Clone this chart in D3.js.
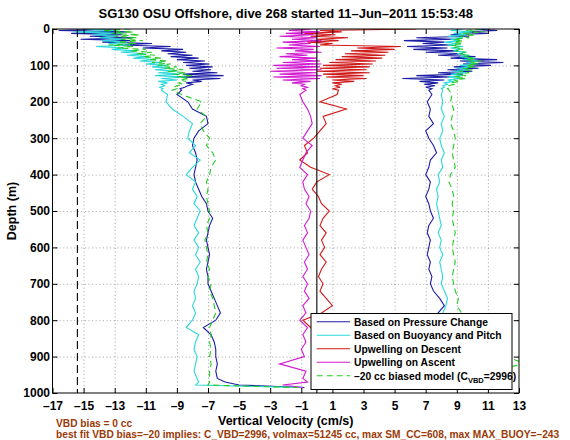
<!DOCTYPE html>
<html><head><meta charset="utf-8">
<script src="https://cdn.jsdelivr.net/npm/d3@7"></script>
<style>
body{margin:0;background:#fff;}
svg{display:block;font-family:"Liberation Sans",Arial,Helvetica,sans-serif;font-weight:bold;}
</style></head><body>
<svg id="chart" width="570" height="440"></svg>
<script>
const titleText = "SG130 OSU Offshore, dive 268 started 11\u2013Jun\u20132011 15:53:48";
const xLabel = "Vertical Velocity (cm/s)";
const yLabel = "Depth (m)";
const noteLines = ["VBD bias = 0 cc",
  "best fit VBD bias=\u201320 implies: C_VBD=2996, volmax=51245 cc, max SM_CC=608, max MAX_BUOY=\u2013243"];
const xTicks = [-17,-15,-13,-11,-9,-7,-5,-3,-1,1,3,5,7,9,11,13];
const yTicks = [0,100,200,300,400,500,600,700,800,900,1000];
const stallW = -15.4;   // dashed reference line
const zeroW = 0;

// depth grids (m)
const depthTop = [0,4,8,12,16,20,24,28,32,36,40,44,48,52,56,60,64,68,72,76,80,84,88,92,96,100,104,108,112,116,120,124,128,132,136,140,144,148,152,156,160,164,168];
const depthDeep = [180,200,220,240,260,280,300,320,340,360,380,400,420,440,460,480,500,520,540,560,580,600,620,640,660,680,700,720,740,760,780,800,820,840,860,880,900,920,940,960,970,978,985];

// Based on Pressure Change (descent / ascent)
const pressDesc = [-13.0,-16.6,-12.2,-15.8,-12.5,-14.6,-11.8,-15.2,-12.0,-13.8,-10.6,-12.6,-9.4,-11.2,-8.6,-10.0,-8.4,-9.6,-8.0,-9.4,-7.6,-9.0,-7.2,-8.6,-6.9,-8.4,-6.7,-8.2,-6.8,-8.0,-6.4,-8.6,-6.0,-9.2,-6.2,-8.0,-7.4,-8.4,-8.0,-8.3,-8.5,-8.8,-8.7,
  -9.0,-8.3,-8.0,-7.1,-7.0,-7.6,-7.9,-8.0,-7.8,-7.7,-7.8,-7.9,-7.8,-7.6,-7.4,-7.1,-7.0,-6.7,-6.9,-7.0,-7.1,-7.0,-6.9,-7.0,-7.1,-7.0,-7.0,-6.8,-6.6,-6.4,-6.2,-6.5,-7.3,-6.8,-6.6,-6.5,-6.5,-6.4,-6.5,-6.4,-5.9,-5.0,-0.8];
const pressAsc = [10.2,11.6,9.4,11.0,8.6,9.8,6.4,8.8,5.6,8.2,6.8,8.6,5.8,8.4,6.2,9.0,7.0,9.4,7.8,10.2,8.6,11.6,9.2,12.0,9.4,11.2,8.8,10.4,8.4,10.0,7.8,9.4,6.4,8.6,5.5,8.2,6.6,7.8,6.9,7.6,7.0,7.4,7.2,
  7.4,7.1,7.3,7.2,7.5,7.0,7.2,7.5,7.7,7.3,7.2,7.0,7.3,7.2,7.0,7.2,7.3,7.5,7.2,7.1,7.3,7.2,7.1,7.3,7.2,7.4,7.3,7.5,7.9,8.2,7.8,7.5,7.7,7.6,7.7,7.8,7.6,7.7,7.8,7.5,7.0,5.0,0.6];

// Based on Buoyancy and Pitch
const buoyDesc = [-14.8,-13.0,-15.6,-12.6,-14.4,-12.8,-14.0,-12.4,-13.8,-12.2,-13.4,-12.0,-14.2,-12.4,-13.2,-11.6,-12.6,-11.0,-12.2,-10.8,-11.8,-10.4,-11.4,-10.0,-11.0,-9.6,-10.6,-9.4,-10.4,-9.0,-10.2,-8.8,-10.4,-8.4,-10.0,-9.0,-10.2,-9.6,-10.0,-9.8,-10.1,-9.9,-10.0,
  -9.6,-9.7,-9.3,-8.6,-8.0,-8.2,-8.3,-7.8,-8.2,-7.5,-8.0,-8.4,-7.8,-8.0,-7.7,-7.9,-7.5,-7.7,-7.9,-7.6,-7.9,-7.6,-7.8,-7.5,-7.8,-7.6,-7.7,-7.9,-7.8,-8.0,-7.8,-8.0,-8.4,-7.6,-7.8,-7.9,-7.7,-7.8,-7.9,-7.7,-7.6,-7.8,-1.0];
const buoyAsc = [9.4,8.6,10.0,8.8,9.6,8.4,9.4,8.6,9.2,8.2,9.0,8.4,9.4,8.6,9.2,8.8,9.6,9.0,9.8,9.2,10.2,9.4,10.4,9.6,10.2,9.2,10.0,9.0,9.8,8.8,9.6,8.6,9.4,8.4,9.2,8.4,8.8,8.2,8.4,8.1,8.2,8.0,8.1,
  8.0,8.1,8.0,8.2,8.0,8.1,7.9,8.0,8.2,8.0,8.1,7.8,7.9,7.7,7.8,7.7,7.8,7.9,8.0,7.8,8.0,7.9,8.1,7.9,8.0,8.1,8.0,8.2,8.4,8.3,8.1,8.0,8.2,8.1,8.3,8.2,8.4,8.2,8.3,8.1,7.6,5.5,0.8];

// Upwelling on Descent / Ascent
const upDesc = [6.4,0.2,1.6,-0.8,1.2,-0.4,2.0,0.0,1.4,-0.6,1.0,0.2,5.4,2.6,5.0,2.2,4.6,1.8,4.4,1.6,4.2,1.2,3.8,0.8,3.6,0.4,3.4,0.2,3.2,0.0,3.4,0.4,3.0,0.6,3.2,1.0,2.4,1.0,1.6,1.2,1.5,1.0,1.4,
  1.3,0.2,1.9,0.4,0.6,0.2,-0.2,-0.8,-0.6,-1.1,-0.4,0.8,0.0,-0.3,0.1,0.3,0.8,0.4,0.2,0.6,0.3,0.5,0.2,0.6,0.3,0.1,0.4,0.2,0.6,1.0,0.3,-0.9,-0.4,0.2,0.5,0.3,0.6,0.4,0.2,0.5,0.8,1.5,0.5];
const upAsc = [-0.4,-1.8,0.2,-2.0,-0.2,-2.4,0.0,-1.6,0.3,-2.2,-0.4,-1.8,0.2,-2.6,-0.2,-1.4,0.3,-2.0,-0.6,-2.4,0.0,-1.6,0.2,-2.2,0.3,-2.8,0.2,-2.6,0.3,-3.0,0.0,-2.4,0.3,-2.8,0.2,-2.2,-0.4,-1.6,-0.8,-1.0,-0.6,-0.9,-0.7,
  -1.1,-0.9,-0.6,-0.4,-0.3,-0.6,-0.9,-0.3,-0.7,-0.9,-1.1,-0.6,-0.9,-0.8,-0.5,-0.7,-0.4,-0.5,-0.8,-0.6,-0.9,-0.7,-0.5,-0.8,-0.6,-0.9,-0.6,-0.8,-0.5,-0.9,-0.7,-1.1,-0.6,-0.9,-0.7,-1.0,-0.8,-2.4,-0.7,-0.9,-0.6,-2.2,-0.9];

// -20 cc biased model
const biasDesc = [-12.0,-13.8,-11.8,-13.2,-11.4,-13.0,-11.6,-12.6,-11.2,-12.8,-11.6,-13.4,-11.8,-12.8,-11.0,-12.0,-10.6,-11.6,-10.4,-11.2,-10.0,-10.8,-9.6,-10.6,-9.4,-10.2,-9.0,-9.8,-8.6,-9.6,-8.4,-9.2,-8.0,-9.0,-8.2,-8.8,-8.4,-8.9,-8.6,-9.0,-9.2,-9.0,-9.3,
  -8.7,-7.4,-7.7,-7.1,-7.5,-7.3,-6.9,-7.1,-6.7,-6.5,-6.8,-6.9,-7.1,-7.0,-7.1,-7.0,-6.9,-6.9,-7.1,-7.0,-7.2,-7.1,-7.0,-7.1,-6.9,-7.0,-6.8,-6.9,-6.7,-6.6,-6.5,-6.7,-6.9,-6.8,-6.9,-6.8,-6.9,-6.8,-6.9,-6.9,-6.9,-7.0,-1.2];
const biasAsc = [10.6,9.6,10.8,9.4,10.2,9.2,9.8,8.8,9.4,8.8,9.4,8.6,9.2,8.8,9.4,8.9,9.6,9.2,9.8,9.4,10.2,9.6,10.6,9.8,10.4,9.6,10.2,9.4,10.0,9.2,9.8,9.0,9.6,8.8,9.6,8.8,9.2,8.6,8.8,8.5,8.6,8.4,8.5,
  8.7,8.6,8.8,8.7,8.6,8.8,8.9,8.8,8.7,8.8,8.9,8.6,8.5,8.7,8.8,8.7,8.8,8.7,8.8,8.9,8.8,8.7,8.8,8.9,8.8,8.7,8.8,8.9,9.1,9.0,9.3,9.0,9.2,9.4,9.6,10.5,12.2,13.4,11.0,9.5,8.5,6.0,0.9];

const legendLabels = ["Based on Pressure Change","Based on Buoyancy and Pitch","Upwelling on Descent","Upwelling on Ascent","\u201320 cc biased model (C"];
const legendColors = ["#1c1ca6","#2ad8dc","#d01818","#d21ad2","#22cc22"];

const depth = depthTop.concat(depthDeep);
const m = {l:52.5, r:519, t:29, b:393};
const x = d3.scaleLinear().domain([-17,13]).range([m.l,m.r]);
const y = d3.scaleLinear().domain([0,1000]).range([m.t,m.b]);
const svg = d3.select("#chart");
const fmt = v => (v<0?"\u2013":"") + Math.abs(v);

svg.append("rect").attr("width",570).attr("height",440).attr("fill","#fff");

// grid
svg.append("g").attr("transform",`translate(0,${m.b})`)
  .call(d3.axisBottom(x).tickValues(xTicks.slice(1,-1)).tickSize(-(m.b-m.t)).tickFormat(""))
  .call(g=>{g.select(".domain").remove();g.selectAll("line").attr("stroke","#8a8a8a").attr("stroke-width",0.8).attr("stroke-dasharray","1,2.6");});
svg.append("g").attr("transform",`translate(${m.l},0)`)
  .call(d3.axisLeft(y).tickValues(yTicks.slice(1,-1)).tickSize(-(m.r-m.l)).tickFormat(""))
  .call(g=>{g.select(".domain").remove();g.selectAll("line").attr("stroke","#8a8a8a").attr("stroke-width",0.8).attr("stroke-dasharray","1,2.6");});

svg.append("clipPath").attr("id","clip").append("rect")
  .attr("x",m.l).attr("y",m.t).attr("width",m.r-m.l).attr("height",m.b-m.t);
const plot = svg.append("g").attr("clip-path","url(#clip)");
const line = d3.line().x(d=>x(d[1])).y(d=>y(d[0]));
const zip = vals => depth.slice(0,vals.length).map((d,i)=>[d,vals[i]]);
const series = [
  [pressDesc,0,null],[pressAsc,0,null],
  [buoyDesc,1,null],[buoyAsc,1,null],
  [upDesc,2,null],[upAsc,3,null],
  [biasDesc,4,"6,4"],[biasAsc,4,"6,4"]
];
series.forEach(([vals,ci,dash])=>{
  plot.append("path").datum(zip(vals)).attr("d",line)
    .attr("fill","none").attr("stroke",legendColors[ci]).attr("stroke-width",1.1)
    .attr("stroke-dasharray",dash);
});
// reference lines
plot.append("line").attr("x1",x(zeroW)).attr("x2",x(zeroW)).attr("y1",y(0)).attr("y2",y(1000)).attr("stroke","#000").attr("stroke-width",1.1);
plot.append("line").attr("x1",x(stallW)).attr("x2",x(stallW)).attr("y1",y(0)).attr("y2",y(1000)).attr("stroke","#000").attr("stroke-width",1.1).attr("stroke-dasharray","8,4");

// axes
const styleAxis = g=>{g.select(".domain").remove();g.selectAll("text").attr("font-size","12px").attr("font-family",null).attr("font-weight","bold").attr("fill","#000");g.selectAll("line").attr("stroke","#000");};
svg.append("g").attr("transform",`translate(0,${m.b})`)
  .call(d3.axisBottom(x).tickValues(xTicks).tickSizeInner(-5).tickSizeOuter(0).tickPadding(8.5).tickFormat(fmt)).call(styleAxis);
svg.append("g").attr("transform",`translate(0,${m.t})`)
  .call(d3.axisTop(x).tickValues(xTicks).tickSizeInner(-5).tickSizeOuter(0).tickFormat("")).call(styleAxis);
svg.append("g").attr("transform",`translate(${m.l},0)`)
  .call(d3.axisLeft(y).tickValues(yTicks).tickSizeInner(-5).tickSizeOuter(0).tickPadding(2.5).tickFormat(fmt)).call(styleAxis);
svg.append("g").attr("transform",`translate(${m.r},0)`)
  .call(d3.axisRight(y).tickValues(yTicks).tickSizeInner(-5).tickSizeOuter(0).tickFormat("")).call(styleAxis);
svg.append("rect").attr("x",m.l).attr("y",m.t).attr("width",m.r-m.l).attr("height",m.b-m.t)
  .attr("fill","none").attr("stroke","#000").attr("stroke-width",1);

// labels
svg.append("text").attr("x",(m.l+m.r)/2).attr("y",18).attr("text-anchor","middle").attr("font-size","13px").text(titleText);
svg.append("text").attr("x",(m.l+m.r)/2).attr("y",425).attr("text-anchor","middle").attr("font-size","12.5px").text(xLabel);
svg.append("text").attr("transform",`translate(15.5,${(m.t+m.b)/2}) rotate(-90)`).attr("text-anchor","middle").attr("font-size","12.5px").text(yLabel);
noteLines.forEach((t,i)=>{
  svg.append("text").attr("x",56).attr("y",427+i*10.5).attr("font-size","10.2px").attr("fill","#9a3a08").text(t);
});

// legend
const lg = svg.append("g");
lg.append("rect").attr("x",311).attr("y",313.5).attr("width",201).attr("height",76)
  .attr("fill","#fff").attr("stroke","#000").attr("stroke-width",1);
legendLabels.forEach((lab,i)=>{
  const by = 325.5 + i*13.5;
  lg.append("line").attr("x1",316.7).attr("x2",350).attr("y1",by-3.7).attr("y2",by-3.7)
    .attr("stroke",legendColors[i]).attr("stroke-width",1.1).attr("stroke-dasharray",i===4?"6,4":null);
  const t = lg.append("text").attr("x",354).attr("y",by).attr("font-size","10.3px").text(lab);
  if(i===4){
    t.append("tspan").attr("font-size","7.5px").attr("dy",3).text("VBD");
    t.append("tspan").attr("dy",-3).text("=2996)");
  }
});
</script>
</body></html>
